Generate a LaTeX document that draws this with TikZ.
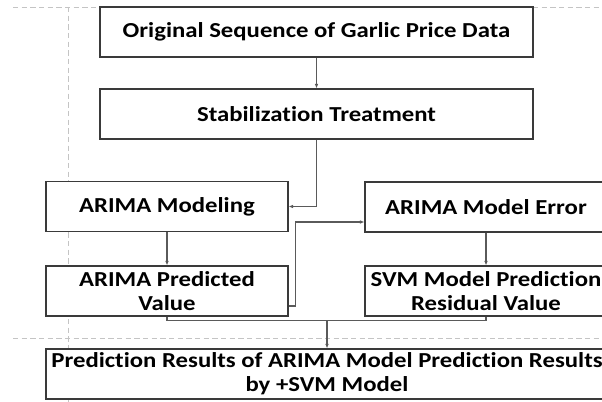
\documentclass[tikz,border=0pt]{standalone}
\usepackage{fontspec}
\setmainfont{Carlito}[Ligatures=NoCommon,FakeStretch=1.16]
\usepackage{tikz}
\usetikzlibrary{arrows.meta,calc,positioning}
\definecolor{Edge}{HTML}{3A3A3A}
\definecolor{Wire}{HTML}{5A5A5A}
\definecolor{Guide}{HTML}{C4C4C4}

\begin{document}
\begin{tikzpicture}[x=0.75pt,y=-0.75pt,
    box/.style={draw=Edge,fill=white,line width=0.8pt,align=center,inner sep=0pt,
      font=\fontsize{16}{18}\selectfont\bfseries,text=black},
    wide/.style={box,minimum width=433*0.75pt,minimum height=50*0.75pt},
    half/.style={box,minimum width=242*0.75pt,minimum height=50*0.75pt},
    wire/.style={draw=Wire,line width=0.8pt},
    arr/.style={wire,-{Latex[length=3.5pt,width=2.8pt]}},
    guide/.style={draw=Guide,line width=0.6pt,dash pattern=on 4pt off 2.5pt}]
  \useasboundingbox (0,0) rectangle (602,402);
  \clip (0,0) rectangle (602,402);
  % guide lines behind the boxes
  \draw[guide] (13,7) -- (602,7);
  \draw[guide] (13,338) -- (602,338);
  \draw[guide] (68,7) -- (68,402);
  % boxes
  \node[wide] (orig) at (316.5,32) {Original Sequence of Garlic Price Data};
  \node[wide] (stab) at (316.5,114) {Stabilization Treatment};
  \node[half] (model) at (167,206.5) {ARIMA Modeling};
  \node[half] (err) at (486,207) {ARIMA Model Error};
  \node[half] (pred) at (167,291) {ARIMA Predicted\\Value};
  \node[half] (svm) at (486,291) {SVM Model Prediction\\Residual Value};
  \node[box,minimum width=562*0.75pt,minimum height=50*0.75pt] (final) at (327,374)
    {Prediction Results of ARIMA Model Prediction Results\\by +SVM Model};
  % connectors
  \draw[arr] (orig) -- (stab);
  \draw[arr] (stab.south) |- (model.east);
  \draw[arr] (model) -- (pred);
  \draw[arr] (err) -- (svm);
  \draw[arr] ([yshift=-11.25pt]pred.east) -- ++(7,0) |- ([yshift=-11.25pt]err.west);
  \draw[wire] (pred.south) -- ++(0,4) -| (svm.south);
  \coordinate (mrg) at (final.north |- 0,320);
  \draw[arr] (mrg) -- (final.north);
\end{tikzpicture}
\end{document}
